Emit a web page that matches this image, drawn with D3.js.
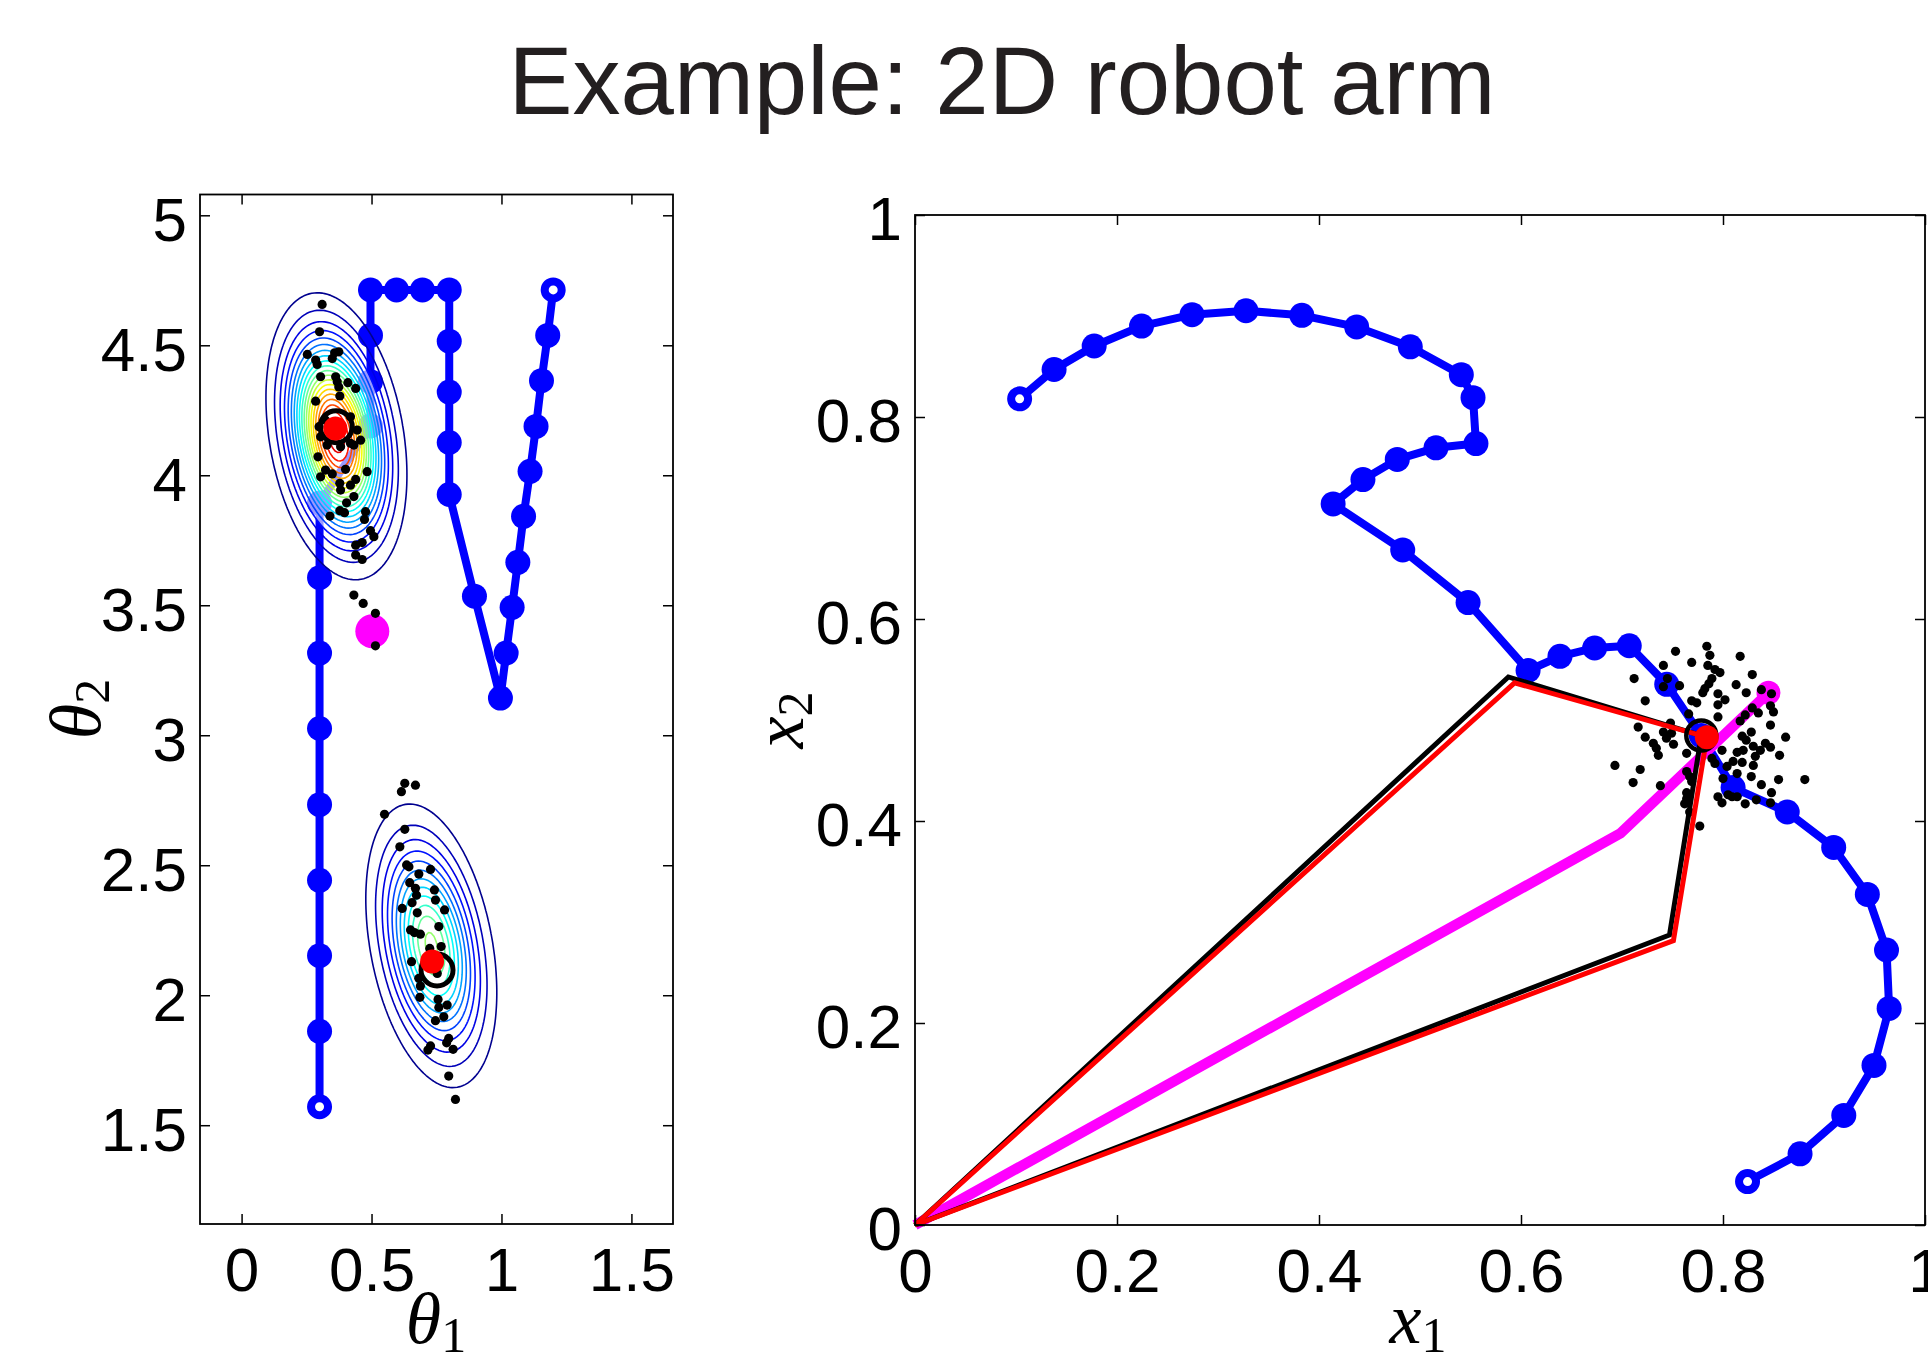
<!DOCTYPE html>
<html>
<head>
<meta charset="utf-8">
<script src="https://cdn.jsdelivr.net/npm/d3@7"></script>
<style>
  body { margin: 0; background: #fff; overflow: hidden; }
</style>
</head>
<body>
<script>
// ---- left panel: joint angles (theta1, theta2) ----
const leftXTicks = [0, 0.5, 1, 1.5];
const leftYTicks = [1.5, 2, 2.5, 3, 3.5, 4, 4.5, 5];

const angleTrajectory = [
  [0.300,1.571],[0.300,1.861],[0.300,2.152],[0.300,2.442],[0.300,2.733],[0.300,3.026],
  [0.300,3.316],[0.300,3.606],[0.300,3.893],[0.496,4.190],[0.496,4.360],[0.496,4.538],
  [0.496,4.713],[0.596,4.713],[0.696,4.713],[0.799,4.713],[0.799,4.516],[0.799,4.320],
  [0.799,4.126],[0.799,3.926],[0.896,3.535],[0.996,3.143],[1.018,3.316],[1.041,3.492],
  [1.063,3.665],[1.085,3.842],[1.110,4.015],[1.133,4.188],[1.154,4.364],[1.178,4.538],
  [1.199,4.713]
];

const angleSamples = [
  [0.310,4.657],[0.300,4.552],[0.253,4.465],[0.285,4.443],[0.291,4.426],[0.349,4.449],
  [0.374,4.475],[0.358,4.471],[0.304,4.379],[0.362,4.379],[0.368,4.360],[0.409,4.356],
  [0.439,4.334],[0.374,4.340],[0.378,4.305],[0.285,4.285],[0.298,4.187],[0.304,4.148],
  [0.458,4.135],[0.419,4.123],[0.294,4.071],[0.323,4.020],[0.304,3.994],[0.349,4.005],
  [0.400,4.023],[0.483,4.014],[0.378,3.969],[0.439,3.984],[0.419,3.962],[0.381,3.943],
  [0.432,3.918],[0.404,3.894],[0.340,3.843],[0.378,3.864],[0.396,3.856],[0.477,3.860],
  [0.473,3.830],[0.496,3.787],[0.509,3.764],[0.439,3.731],[0.464,3.741],[0.439,3.693],
  [0.464,3.676],[0.432,3.539],[0.468,3.507],[0.323,4.212],[0.419,4.225],[0.445,4.174],
  [0.329,4.116],[0.381,4.110],[0.432,4.116],[0.515,3.469],[0.515,3.344],
  [0.628,2.815],[0.615,2.783],[0.669,2.808],[0.550,2.696],[0.628,2.638],[0.609,2.571],
  [0.635,2.501],[0.644,2.494],[0.682,2.466],[0.727,2.484],[0.647,2.433],[0.669,2.411],
  [0.742,2.405],[0.673,2.385],[0.656,2.356],[0.746,2.366],[0.618,2.334],[0.676,2.317],
  [0.781,2.328],[0.759,2.264],[0.650,2.251],[0.665,2.241],[0.688,2.235],[0.724,2.180],
  [0.768,2.187],[0.654,2.129],[0.753,2.084],[0.682,2.065],[0.688,2.035],[0.686,1.992],
  [0.756,1.984],[0.791,1.962],[0.759,1.953],[0.778,1.917],[0.746,1.902],[0.797,1.834],
  [0.789,1.817],[0.727,1.805],[0.717,1.789],[0.814,1.792],[0.797,1.689],[0.823,1.599]
];

// posterior modes (gaussian fits) drawn as contours
const modeMeans = [[0.365, 4.15], [0.73, 2.19]];
const modeSD    = [[0.11, 0.224], [0.1125, 0.2435]];
const modeRho   = [-0.27, -0.33];
const modePeak  = [1, 0.59];
const contourLevels = d3.range(1, 21).map(k => k / 20.8);

const angleMAP    = [[0.361, 4.180], [0.733, 2.130]];   // red dots
const angleModes  = [[0.364, 4.187], [0.752, 2.097]];   // black rings
const angleTarget = [0.503, 3.400];                     // magenta

// ---- right panel: hand position (x1, x2) ----
const rightTicks = [0, 0.2, 0.4, 0.6, 0.8, 1];

const handTrajectory = [
  [0.1036,0.818],[0.1377,0.847],[0.1774,0.8703],[0.2243,0.890],[0.2743,0.9013],[0.3277,0.9052],
  [0.383,0.9007],[0.4373,0.8892],[0.4904,0.8695],[0.5409,0.8419],[0.5525,0.8191],[0.5554,0.7737],
  [0.5158,0.7695],[0.4775,0.758],[0.4435,0.738],[0.414,0.7139],[0.4829,0.6683],[0.5476,0.6163],
  [0.607,0.549],[0.6386,0.563],[0.6729,0.5713],[0.7072,0.5735],[0.7443,0.5353],[0.7785,0.4846],
  [0.810,0.4331],[0.8636,0.4089],[0.9096,0.3738],[0.9429,0.3273],[0.9619,0.2723],[0.9645,0.2144],
  [0.9495,0.158],[0.9196,0.1085],[0.8763,0.0705],[0.8243,0.043]
];

const handSamples = [
  [0.784,0.573],[0.753,0.568],[0.787,0.564],[0.817,0.563],[0.769,0.557],[0.785,0.554],
  [0.741,0.554],[0.792,0.550],[0.797,0.547],[0.829,0.545],[0.789,0.541],[0.712,0.541],
  [0.745,0.541],[0.786,0.536],[0.813,0.535],[0.757,0.534],[0.741,0.533],[0.782,0.531],
  [0.838,0.530],[0.780,0.527],[0.823,0.527],[0.795,0.526],[0.848,0.526],[0.723,0.519],
  [0.769,0.519],[0.774,0.517],[0.802,0.520],[0.795,0.515],[0.847,0.514],[0.829,0.512],
  [0.822,0.505],[0.850,0.508],[0.835,0.507],[0.766,0.506],[0.795,0.503],[0.817,0.499],
  [0.748,0.497],[0.716,0.493],[0.847,0.495],[0.741,0.488],[0.749,0.487],[0.828,0.488],
  [0.819,0.484],[0.862,0.483],[0.723,0.483],[0.744,0.482],[0.823,0.480],[0.731,0.477],
  [0.751,0.476],[0.842,0.477],[0.830,0.474],[0.847,0.473],[0.734,0.472],[0.799,0.470],
  [0.820,0.470],[0.814,0.468],[0.837,0.470],[0.736,0.465],[0.764,0.467],[0.856,0.465],
  [0.789,0.462],[0.832,0.464],[0.810,0.459],[0.819,0.458],[0.693,0.455],[0.792,0.457],
  [0.718,0.451],[0.804,0.454],[0.830,0.455],[0.764,0.449],[0.814,0.447],[0.767,0.444],
  [0.828,0.444],[0.711,0.438],[0.855,0.441],[0.881,0.441],[0.800,0.442],[0.769,0.439],
  [0.738,0.435],[0.838,0.436],[0.764,0.428],[0.848,0.428],[0.795,0.424],[0.809,0.424],
  [0.814,0.424],[0.764,0.422],[0.833,0.421],[0.799,0.418],[0.762,0.417],[0.822,0.417],
  [0.847,0.418],[0.767,0.409],[0.777,0.395],[0.805,0.426]
];

const armBlack = [
  [[0, 0], [0.5875, 0.5426], [0.7785, 0.4846]],
  [[0, 0], [0.7470, 0.2871], [0.7785, 0.4846]]
];
const armRed = [
  [[0, 0], [0.5936, 0.5368], [0.784, 0.483]],
  [[0, 0], [0.7509, 0.2816], [0.784, 0.483]]
];
const armTarget = [[0, 0], [0.6985, 0.3878], [0.845, 0.527]];
const handMode = [0.7785, 0.4846];
const handMAP  = [0.784, 0.483];

// ---- setup ----
const width = 1928, height = 1370;
const sans = "'Liberation Sans', Arial, Helvetica, sans-serif";
const serif = "'Liberation Serif', 'Times New Roman', serif";

const svg = d3.select("body").append("svg")
  .attr("xmlns", "http://www.w3.org/2000/svg")
  .attr("width", width)
  .attr("height", height);

svg.append("text")
  .attr("x", 1002).attr("y", 114)
  .attr("text-anchor", "middle")
  .attr("font-family", sans)
  .attr("font-size", 96)
  .attr("fill", "#231f20")
  .text("Example: 2D robot arm");

const jet = d3.scaleLinear()
  .domain([0, 0.125, 0.375, 0.625, 0.875, 1])
  .range(["#00008f", "#0000ff", "#00ffff", "#ffff00", "#ff0000", "#800000"]);

function drawFrame(g, x, y, xTicks, yTicks) {
  const [x0, x1] = x.range(), [y0, y1] = y.range();
  const style = a => a.call(s => s.select(".domain").remove())
    .call(s => s.selectAll("line").attr("stroke", "#000").attr("stroke-width", 1.5))
    .call(s => s.selectAll("text").attr("font-family", sans).attr("font-size", 62).attr("fill", "#000"));

  g.append("g").attr("transform", `translate(0,${y0})`)
    .call(d3.axisBottom(x).tickValues(xTicks).tickFormat(String).tickSizeInner(-10).tickSizeOuter(0).tickPadding(23))
    .call(style);
  g.append("g").attr("transform", `translate(0,${y1})`)
    .call(d3.axisTop(x).tickValues(xTicks).tickFormat("").tickSizeInner(-10).tickSizeOuter(0))
    .call(style);
  g.append("g").attr("transform", `translate(${x0},0)`)
    .call(d3.axisLeft(y).tickValues(yTicks).tickFormat(String).tickSizeInner(-10).tickSizeOuter(0).tickPadding(13))
    .call(style)
    .call(s => s.selectAll("text").attr("dy", "0.4em"));
  g.append("g").attr("transform", `translate(${x1},0)`)
    .call(d3.axisRight(y).tickValues(yTicks).tickFormat("").tickSizeInner(-10).tickSizeOuter(0))
    .call(style);

  g.append("rect")
    .attr("x", x0).attr("y", y1)
    .attr("width", x1 - x0).attr("height", y0 - y1)
    .attr("fill", "none").attr("stroke", "#000").attr("stroke-width", 1.8);
}

function axisLabel(g, px, py, main, sub, rotated) {
  const t = g.append("text")
    .attr("transform", `translate(${px},${py})` + (rotated ? " rotate(-90)" : ""))
    .attr("text-anchor", "middle")
    .attr("fill", "#000");
  t.append("tspan").attr("font-family", serif).attr("font-style", "italic")
    .attr("font-size", 72).text(main);
  t.append("tspan").attr("font-family", serif)
    .attr("font-size", 50).attr("dy", 9).text(sub);
}

function drawTrajectory(g, x, y, pts) {
  const line = d3.line().x(d => x(d[0])).y(d => y(d[1]));
  g.append("path").datum(pts)
    .attr("d", line)
    .attr("fill", "none")
    .attr("stroke", "#0000ff")
    .attr("stroke-width", 8)
    .attr("stroke-linejoin", "round");
  g.selectAll(null).data(pts).join("circle")
    .attr("cx", d => x(d[0])).attr("cy", d => y(d[1]))
    .attr("r", (d, i) => (i === 0 || i === pts.length - 1) ? 8.5 : 12.5)
    .attr("fill", (d, i) => (i === 0 || i === pts.length - 1) ? "#fff" : "#0000ff")
    .attr("stroke", "#0000ff")
    .attr("stroke-width", (d, i) => (i === 0 || i === pts.length - 1) ? 8 : 0);
}

function drawSamples(g, x, y, pts) {
  g.selectAll(null).data(pts).join("circle")
    .attr("cx", d => x(d[0])).attr("cy", d => y(d[1]))
    .attr("r", 4.6)
    .attr("fill", "#000");
}

// ---- left panel ----
const lx = d3.scaleLinear().domain([-0.16, 1.66]).range([200, 673]);
const ly = d3.scaleLinear().domain([1.12, 5.08]).range([1224, 194.5]);
const left = svg.append("g").attr("class", "left-panel");

drawTrajectory(left, lx, ly, angleTrajectory);

// density grid for the contours
const h = 0.01;
const gx0 = lx.domain()[0], gy0 = ly.domain()[0];
const nx = Math.round((lx.domain()[1] - gx0) / h) + 1;
const ny = Math.round((ly.domain()[1] - gy0) / h) + 1;
const grid = new Float64Array(nx * ny);
for (let j = 0; j < ny; ++j) {
  for (let i = 0; i < nx; ++i) {
    const t1 = gx0 + i * h, t2 = gy0 + j * h;
    grid[j * nx + i] = d3.sum(modeMeans, (m, k) => {
      const a = (t1 - m[0]) / modeSD[k][0], b = (t2 - m[1]) / modeSD[k][1], r = modeRho[k];
      return modePeak[k] * Math.exp(-(a * a - 2 * r * a * b + b * b) / (2 * (1 - r * r)));
    });
  }
}
const contours = d3.contours().size([nx, ny]).thresholds(contourLevels)(grid);
const gridPath = d3.geoPath(d3.geoTransform({
  point(px, py) { this.stream.point(lx(gx0 + (px - 0.5) * h), ly(gy0 + (py - 0.5) * h)); }
}));

const contourLayer = left.append("g").attr("class", "contours");
contourLayer.append("path")
  .attr("d", gridPath(contours[3]))
  .attr("fill", "#fff").attr("fill-opacity", 0.6).attr("stroke", "none");
contourLayer.selectAll(null).data(contours).join("path")
  .attr("d", gridPath)
  .attr("fill", "none")
  .attr("stroke", (d, i) => jet(i / (contourLevels.length - 1) * 0.9))
  .attr("stroke-width", 1.6);

left.append("circle")
  .attr("cx", lx(angleTarget[0])).attr("cy", ly(angleTarget[1]))
  .attr("r", 17).attr("fill", "#ff00ff");

drawSamples(left, lx, ly, angleSamples);

left.selectAll(null).data(angleModes).join("circle")
  .attr("cx", d => lx(d[0])).attr("cy", d => ly(d[1]))
  .attr("r", 16).attr("fill", "none").attr("stroke", "#000").attr("stroke-width", 5);
left.selectAll(null).data(angleMAP).join("circle")
  .attr("cx", d => lx(d[0])).attr("cy", d => ly(d[1]))
  .attr("r", 12).attr("fill", "#ff0000");

drawFrame(left, lx, ly, leftXTicks, leftYTicks);
axisLabel(left, 436, 1343, "θ", "1", false);
axisLabel(left, 100, 709, "θ", "2", true);

// ---- right panel ----
const rx = d3.scaleLinear().domain([0, 1]).range([915, 1925]);
const ry = d3.scaleLinear().domain([0, 1]).range([1225, 215]);
const right = svg.append("g").attr("class", "right-panel");

drawTrajectory(right, rx, ry, handTrajectory);

const armLine = d3.line().x(d => rx(d[0])).y(d => ry(d[1]));
right.append("path").datum(armTarget)
  .attr("d", armLine).attr("fill", "none")
  .attr("stroke", "#ff00ff").attr("stroke-width", 10.5);
right.append("circle")
  .attr("cx", rx(armTarget[2][0])).attr("cy", ry(armTarget[2][1]))
  .attr("r", 12).attr("fill", "#ff00ff");

drawSamples(right, rx, ry, handSamples);

right.selectAll(null).data(armBlack).join("path")
  .attr("d", armLine).attr("fill", "none")
  .attr("stroke", "#000").attr("stroke-width", 5);
right.selectAll(null).data(armRed).join("path")
  .attr("d", armLine).attr("fill", "none")
  .attr("stroke", "#ff0000").attr("stroke-width", 5);

right.append("circle")
  .attr("cx", rx(handMode[0])).attr("cy", ry(handMode[1]))
  .attr("r", 15).attr("fill", "none").attr("stroke", "#000").attr("stroke-width", 4.5);
right.append("circle")
  .attr("cx", rx(handMAP[0])).attr("cy", ry(handMAP[1]))
  .attr("r", 12).attr("fill", "#ff0000");

drawFrame(right, rx, ry, rightTicks, rightTicks);
axisLabel(right, 1418, 1343, "x", "1", false);
axisLabel(right, 803, 720, "x", "2", true);
</script>
</body>
</html>
